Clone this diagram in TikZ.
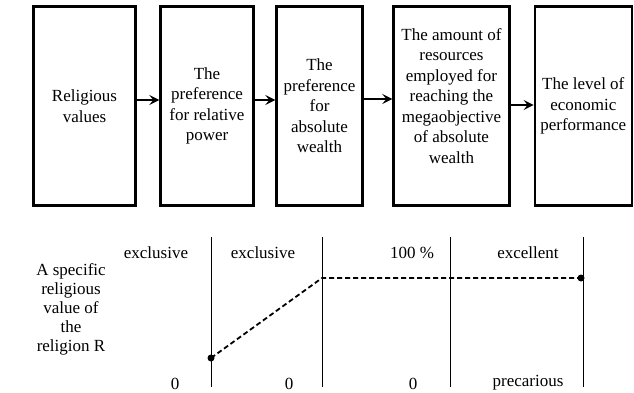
\documentclass[tikz,border=0pt]{standalone}
\usepackage{fontspec}
\setmainfont{Liberation Serif}
\usetikzlibrary{arrows.meta}
\begin{document}
\begin{tikzpicture}[x=1pt,y=-1pt,
  box/.style={draw,line width=2.4pt,minimum height=199pt,align=center,inner sep=0pt,font=\fontsize{17}{20.5}\selectfont},
  flow/.style={line width=1.8pt,-{Stealth[length=10pt,width=10pt,inset=4pt]}},
  lbl/.style={font=\fontsize{17}{19}\selectfont,align=center},
  level/.style={line width=0.9pt},
  track/.style={line width=1.8pt,dash pattern=on 5pt off 3pt},
  dot/.style={circle,fill,inner sep=0pt,minimum size=7pt}]
  \useasboundingbox (0,0) rectangle (634,393);
  \node[box,minimum width=102pt] (values) at (84.5,106) {Religious\\values};
  \node[box,minimum width=93pt] (relpower) at (207,106) {The\\preference\\for relative\\power};
  \node[box,minimum width=86pt] (abswealth) at (319.5,106) {The\\preference\\for\\absolute\\wealth};
  \node[box,minimum width=116pt] (resources) at (451.5,106) {The amount of\\resources\\employed for\\reaching the\\megaobjective\\of absolute\\wealth\\ \mbox{}};
  \node[box,minimum width=97pt] (economy) at (583.3,106) {The level of\\economic\\performance};
  \draw[flow] ([yshift=6pt]values.east) -- ([yshift=6pt]relpower.west);
  \draw[flow] ([yshift=6pt]relpower.east) -- ([yshift=6pt]abswealth.west);
  \draw[flow] ([yshift=7pt]abswealth.east) -- ([yshift=7pt]resources.west);
  \draw[flow] ([yshift=1pt]resources.east) -- ([yshift=1pt]economy.west);
  \node[lbl] (valueR) at (71,309) {A specific\\religious\\value of\\the\\religion R};
  \foreach \x in {211,322,450,583}
    \draw[level] (\x,237) -- (\x,387);
  \node[lbl] (top1) at (156,253) {exclusive};
  \node[lbl] (top2) at (263,253) {exclusive};
  \node[lbl] (top3) at (412,253) {100 \%};
  \node[lbl] (top4) at (528,253) {excellent};
  \node[lbl] (low1) at (175,384) {0};
  \node[lbl] (low2) at (289,384) {0};
  \node[lbl] (low3) at (413,384) {0};
  \node[lbl] (low4) at (528,383) {precarious};
  \node[dot] (start) at (211,358) {};
  \coordinate (peak) at (322,278);
  \node[dot] (finish) at (581,278) {};
  \draw[track] (start.center) -- (peak) -- (finish.center);
\end{tikzpicture}
\end{document}
